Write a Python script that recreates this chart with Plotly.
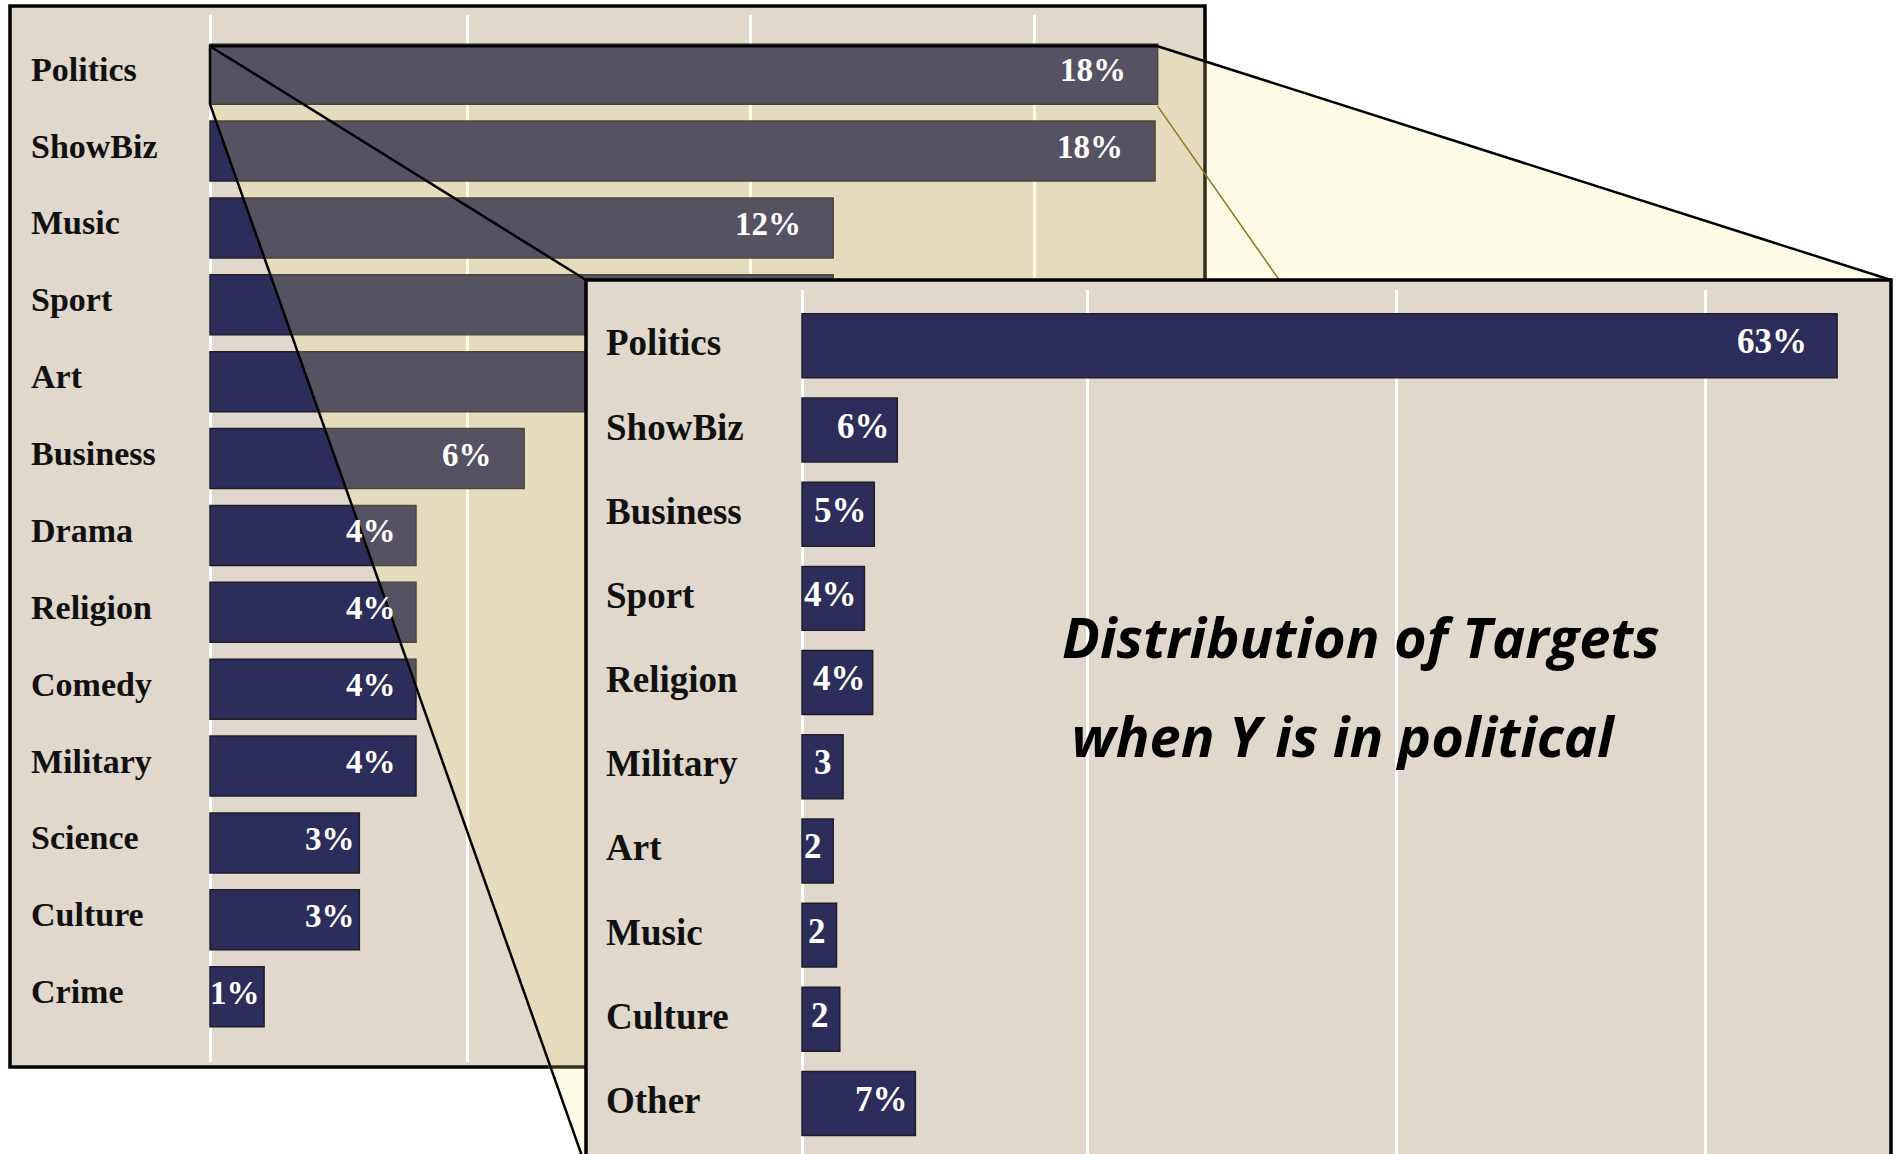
import plotly.graph_objects as go

# ---------------- data ----------------
left_categories = ["Politics", "ShowBiz", "Music", "Sport", "Art", "Business", "Drama",
                   "Religion", "Comedy", "Military", "Science", "Culture", "Crime"]
left_values = [18.4, 18.35, 12.1, 12.1, 11.0, 6.1, 4.0, 4.0, 4.0, 4.0, 2.9, 2.9, 1.05]
left_labels = ["18%", "18%", "12%", "", "", "6%", "4%", "4%", "4%", "4%", "3%", "3%", "1%"]

right_categories = ["Politics", "ShowBiz", "Business", "Sport", "Religion", "Military",
                    "Art", "Music", "Culture", "Other"]
right_values = [63.0, 5.8, 4.4, 3.8, 4.3, 2.5, 1.9, 2.1, 2.3, 6.9]
right_labels = ["63%", "6%", "5%", "4%", "4%", "3", "2", "2", "2", "7%"]

caption_lines = ["Distribution of Targets", " when Y is in political"]

left_grid = [0, 5, 10.5, 16]
right_grid = [0, 17.4, 36.2, 55.0]

# ---------------- styling / geometry ----------------
W, H = 1896, 1154
BG = "#E0D8CC"
NAVY = "#2C2D5A"
EDGE = "#1E1E28"
SERIF = "Liberation Serif"

L_FRAME = (10, 6, 1205, 1067)          # x0, y0, x1, y1 (px)
L_PX = (208, 1203)
L_PY = (15, 1062)
L_SCALE = 51.5
L_RX = [-2 / L_SCALE, -2 / L_SCALE + (L_PX[1] - L_PX[0]) / L_SCALE]
L_RY = [12.85, -0.77]
L_W = 0.78

R_FRAME = (586, 280, 1891, 1175)
R_PX = (800, 1890)
R_PY = (290, 1154)
R_SCALE = 16.43
R_RX = [-2 / R_SCALE, -2 / R_SCALE + (R_PX[1] - R_PX[0]) / R_SCALE]
R_RY = [9.60, -0.663]
R_W = 0.76


def dx(px):
    return px / W


def dy(py):
    return 1 - py / H


def lx(v):
    return L_PX[0] + (v - L_RX[0]) / (L_RX[1] - L_RX[0]) * (L_PX[1] - L_PX[0])


def ly(i):
    return L_PY[0] + (i - L_RY[1]) / (L_RY[0] - L_RY[1]) * (L_PY[1] - L_PY[0])


fig = go.Figure()

# left panel bars
fig.add_trace(go.Bar(
    x=left_values, y=left_categories, orientation="h", width=L_W,
    marker=dict(color=NAVY, line=dict(color=EDGE, width=1.5)),
    xaxis="x", yaxis="y", hoverinfo="skip"))

# zoom connector (computed from the Politics bar in the left panel)
i0 = left_categories.index("Politics")
bx0, bx1 = lx(0), lx(left_values[i0])
by0, by1 = ly(i0 - L_W / 2), ly(i0 + L_W / 2)
rx0, ry0, rx1, ry1 = R_FRAME
by_top = by0 + 2

poly_x = [bx0, bx1, rx1, rx1, rx0 - 4, bx0, bx0]
poly_y = [by_top, by_top, ry0, H + 10, H + 10, by1, by_top]
fig.add_trace(go.Scatter(
    x=poly_x, y=poly_y, mode="lines", fill="toself",
    fillcolor="rgba(250,234,130,0.2)", line=dict(width=0),
    xaxis="x2", yaxis="y2", hoverinfo="skip"))

# olive connector from bottom-right corner
fig.add_trace(go.Scatter(
    x=[bx1, rx1], y=[by1 + 2, H], mode="lines",
    line=dict(color="#8A7A1E", width=1.5),
    xaxis="x2", yaxis="y2", hoverinfo="skip"))

# black connector lines
blk_x = [bx1, bx0, bx0, None, bx0, rx0, None, bx0, rx0 - 4, None, bx1, rx1]
blk_y = [by_top, by_top, by1, None, by_top, ry0, None, by1, H + 2, None, by_top, ry0]
fig.add_trace(go.Scatter(
    x=blk_x, y=blk_y, mode="lines", line=dict(color="black", width=2.5),
    xaxis="x2", yaxis="y2", hoverinfo="skip"))

# right panel background / frame
fig.add_trace(go.Scatter(
    x=[rx0, rx1, rx1, rx0, rx0], y=[ry1, ry1, ry0, ry0, ry1], mode="lines",
    fill="toself", fillcolor=BG, line=dict(color="black", width=3.5),
    xaxis="x2", yaxis="y2", hoverinfo="skip"))

# right panel bars
fig.add_trace(go.Bar(
    x=right_values, y=right_categories, orientation="h", width=R_W,
    marker=dict(color=NAVY, line=dict(color=EDGE, width=1.5)),
    xaxis="x3", yaxis="y3", hoverinfo="skip"))

annotations = []
for cat in left_categories:
    annotations.append(dict(
        x=dx(29), xref="paper", y=cat, yref="y", xanchor="left", yanchor="middle",
        yshift=5, showarrow=False, text="<b>%s</b>" % cat,
        font=dict(family=SERIF, size=34, color="#111111")))
for cat, v, lab in zip(left_categories, left_values, left_labels):
    if not lab:
        continue
    shift = -30 if v >= 5 else (-18 if v >= 3.5 else -2)
    annotations.append(dict(
        x=v, xref="x", y=cat, yref="y", xanchor="right", yanchor="middle",
        xshift=shift, yshift=4, showarrow=False, text="<b>%s</b>" % lab,
        font=dict(family=SERIF, size=33, color="white")))
for cat in right_categories:
    annotations.append(dict(
        x=dx(604), xref="paper", y=cat, yref="y3", xanchor="left", yanchor="middle",
        yshift=3, showarrow=False, text="<b>%s</b>" % cat,
        font=dict(family=SERIF, size=37, color="#111111")))
for cat, v, lab in zip(right_categories, right_values, right_labels):
    shift = -28 if v >= 20 else (-5 if len(lab) > 1 else -9)
    annotations.append(dict(
        x=v, xref="x3", y=cat, yref="y3", xanchor="right", yanchor="middle",
        xshift=shift, yshift=4, showarrow=False, text="<b>%s</b>" % lab,
        font=dict(family=SERIF, size=35, color="white")))

annotations.append(dict(
    x=dx(1060), xref="paper", y=dy(636), yref="paper", xanchor="left", yanchor="middle",
    showarrow=False, text="<b><i>%s</i></b>" % caption_lines[0],
    font=dict(family="Open Sans", size=56, color="black")))
annotations.append(dict(
    x=dx(1055), xref="paper", y=dy(735), yref="paper", xanchor="left", yanchor="middle",
    showarrow=False, text="<b><i>%s</i></b>" % caption_lines[1],
    font=dict(family="Open Sans", size=56, color="black")))

shapes = [dict(type="rect", xref="paper", yref="paper",
               x0=dx(L_FRAME[0]), x1=dx(L_FRAME[2]), y0=dy(L_FRAME[3]), y1=dy(L_FRAME[1]),
               fillcolor=BG, line=dict(color="black", width=3.5), layer="below")]

hidden = dict(showticklabels=False, ticks="", showline=False, zeroline=False)

fig.update_layout(
    width=W, height=H, margin=dict(l=0, r=0, t=0, b=0),
    paper_bgcolor="white", plot_bgcolor="rgba(0,0,0,0)",
    showlegend=False, barmode="overlay",
    annotations=annotations, shapes=shapes,
    xaxis=dict(domain=[dx(L_PX[0]), dx(L_PX[1])], range=L_RX, anchor="y",
               tickmode="array", tickvals=left_grid, showgrid=True,
               gridcolor="white", gridwidth=3, fixedrange=True, **hidden),
    yaxis=dict(domain=[dy(L_PY[1]), dy(L_PY[0])], range=L_RY, anchor="x",
               type="category", categoryorder="array", categoryarray=left_categories,
               showgrid=False, fixedrange=True, **hidden),
    xaxis2=dict(domain=[0, 1], range=[0, W], anchor="y2", visible=False, fixedrange=True),
    yaxis2=dict(domain=[0, 1], range=[H, 0], anchor="x2", visible=False, fixedrange=True),
    xaxis3=dict(domain=[dx(R_PX[0]), dx(R_PX[1])], range=R_RX, anchor="y3",
                tickmode="array", tickvals=right_grid, showgrid=True,
                gridcolor="white", gridwidth=3, fixedrange=True, **hidden),
    yaxis3=dict(domain=[dy(R_PY[1]), dy(R_PY[0])], range=R_RY, anchor="x3",
                type="category", categoryorder="array", categoryarray=right_categories,
                showgrid=False, fixedrange=True, **hidden),
)

fig.write_html("out.html", config={"displayModeBar": False},
               post_script="document.body.style.margin='0';document.body.style.overflow='hidden';")
